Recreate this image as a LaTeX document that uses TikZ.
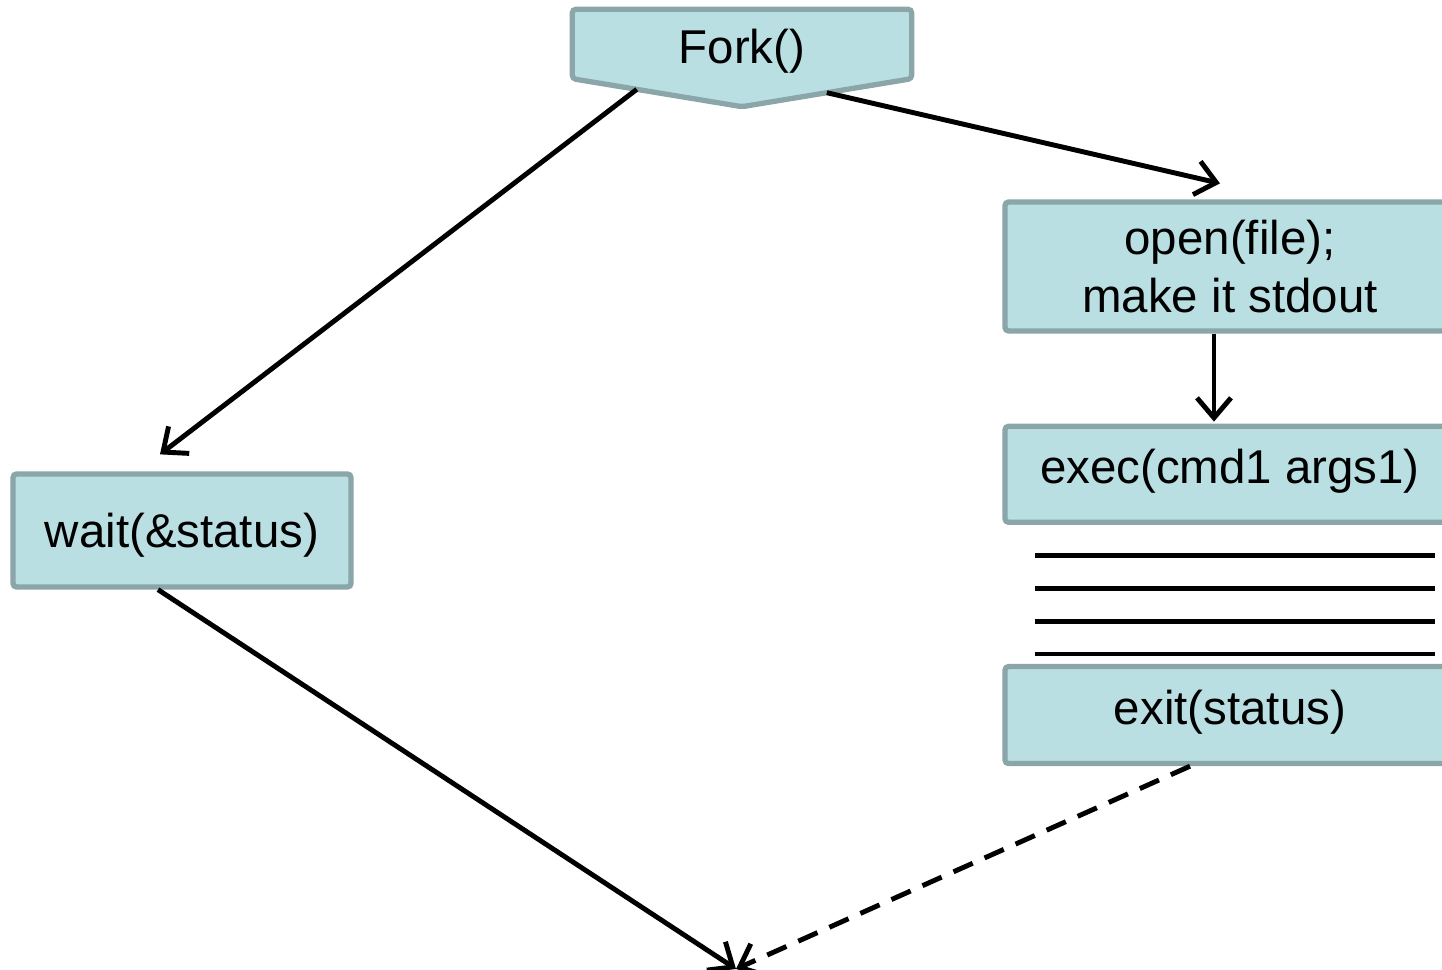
\documentclass[tikz,border=0pt]{standalone}
\usepackage{fontspec}
\setmainfont{Liberation Sans}
\usetikzlibrary{positioning, arrows.meta, calc, backgrounds}
\definecolor{boxfill}{HTML}{B9DFE3}
\definecolor{boxline}{HTML}{8AA6A9}

\begin{document}
\begin{tikzpicture}[
  >={Straight Barb[length=2mm, width=3.4mm]},
  every node/.style={font=\fontsize{13.5}{16.5}\selectfont},
  block/.style={
    draw=boxline, fill=boxfill, rounded corners=1pt,
    line width=1.5pt, inner sep=0pt, text=black,
  },
  upper/.style={text height=0.37cm, text depth=0.18cm},
  arr/.style={->, line width=1.4pt, black},
  darr/.style={arr, dash pattern=on 2.1mm off 1.3mm},
  rule/.style={line width=1.4pt, black},
]
\useasboundingbox (0,0) rectangle (14.42,-9.70);

% === FORK (top) ===
\node[minimum width=3.38cm, minimum height=0.68cm, inner sep=0pt,
  text height=0.45cm, text depth=0.06cm] (fork) at (7.42,-0.44) {Fork()};
\coordinate (forktip) at ($(fork.south)+(0,-0.28)$);
\begin{scope}[on background layer]
  \draw[draw=boxline, fill=boxfill, line width=1.5pt, rounded corners=1pt]
    (fork.north west) -- (fork.north east) -- (fork.south east)
    -- (forktip) -- (fork.south west) -- cycle;
\end{scope}

% === PARENT (left) ===
\node[block, minimum width=3.38cm, minimum height=1.13cm,
  text height=0.43cm, text depth=0.10cm] (wait) at (1.82,-5.305) {wait(\&status)};

% === CHILD (right) ===
\node[block, minimum width=4.5cm, minimum height=1.29cm, align=center]
  (open) at (12.30,-2.665) {open(file);\\make it stdout};
\node[block, upper, minimum width=4.5cm, minimum height=0.96cm,
  below=0.90cm of open] (exec) {exec(cmd1 args1)};
\node[block, upper, minimum width=4.5cm, minimum height=0.97cm,
  below=1.39cm of exec] (exit) {exit(status)};

% code running after exec
\foreach \k in {0,...,3} {
  \draw[rule] ($(exec.south west)+(0.33,-0.31-0.327*\k)$) -- ++(4.0,0);
}

% === CONNECTORS ===
\coordinate (join) at (7.36,-9.69);
\draw[arr] ($(fork.south west)!0.38!(forktip)$) -- ($(wait.north)+(-0.22,0.17)$);
\draw[arr] ($(forktip)!0.5!(fork.south east)$) -- ($(open.north)+(-0.10,0.16)$);
\draw[arr] ($(open.south)+(-0.16,0)$) -- ($(exec.north)+(-0.16,0.02)$);
\draw[arr] ($(wait.south)+(-0.24,0)$) -- (join);
\draw[darr] ($(exit.south)+(-0.40,0)$) -- (join);

\end{tikzpicture}
\end{document}
